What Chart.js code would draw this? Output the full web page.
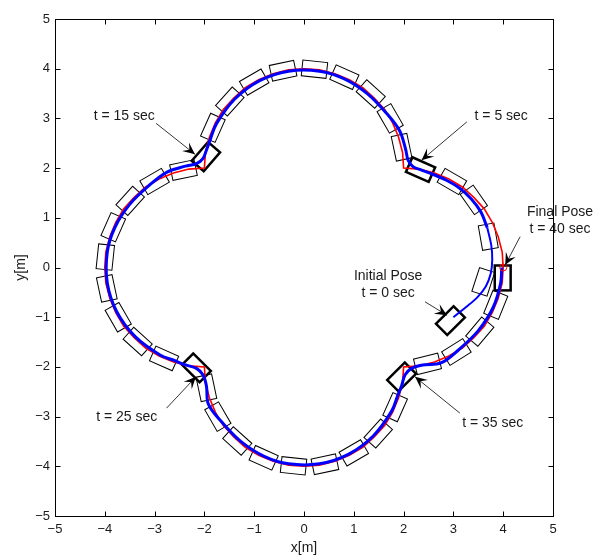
<!DOCTYPE html>
<html lang="en">
<head>
<meta charset="UTF-8">
<title>Trajectory Tracking</title>
<script src="https://cdn.jsdelivr.net/npm/chart.js"></script>
<style>
  html, body { margin: 0; padding: 0; background: #fff; }
  #wrap { width: 593px; height: 555px; }
</style>
</head>
<body>
<div id="wrap"><canvas id="traj" width="593" height="555"></canvas></div>
<script>
// reference path (red), counter-clockwise from (4,0)
const refX = [4.00,3.98,3.90,3.78,3.62,3.41,3.18,2.91,2.62,2.31,2.00,
  1.98,1.90,1.78,1.62,1.41,1.18,0.91,0.62,0.31,0.00,-0.31,-0.62,-0.91,-1.18,-1.41,-1.62,-1.78,-1.90,-1.98,-2.00,
  -2.31,-2.62,-2.91,-3.18,-3.41,-3.62,-3.78,-3.90,-3.98,-4.00,-3.98,-3.90,-3.78,-3.62,-3.41,-3.18,-2.91,-2.62,-2.31,-2.00,
  -1.98,-1.90,-1.78,-1.62,-1.41,-1.18,-0.91,-0.62,-0.31,0.00,0.31,0.62,0.91,1.18,1.41,1.62,1.78,1.90,1.98,2.00,
  2.31,2.62,2.91,3.18,3.41,3.62,3.78,3.90,3.98,4.00];
const refY = [0.00,0.31,0.62,0.91,1.18,1.41,1.62,1.78,1.90,1.98,2.00,
  2.31,2.62,2.91,3.18,3.41,3.62,3.78,3.90,3.98,4.00,3.98,3.90,3.78,3.62,3.41,3.18,2.91,2.62,2.31,2.00,
  1.98,1.90,1.78,1.62,1.41,1.18,0.91,0.62,0.31,0.00,-0.31,-0.62,-0.91,-1.18,-1.41,-1.62,-1.78,-1.90,-1.98,-2.00,
  -2.31,-2.62,-2.91,-3.18,-3.41,-3.62,-3.78,-3.90,-3.98,-4.00,-3.98,-3.90,-3.78,-3.62,-3.41,-3.18,-2.91,-2.62,-2.31,-2.00,
  -1.98,-1.90,-1.78,-1.62,-1.41,-1.18,-0.91,-0.62,-0.31,0.00];

// robot path (blue): first the approach from the initial pose, then the tracking part
const startX = [3.00,3.25,3.48,3.65,3.75,3.78,3.76,3.68];
const startY = [-1.00,-0.80,-0.60,-0.38,-0.12,0.15,0.45,0.80];
const robotX = [3.68,3.55,3.36,3.12,2.85,2.58,2.36,2.19,2.09,2.04,
  1.92,1.66,1.27,0.80,0.31,-0.31,-0.89,-1.39,-1.76,-1.88,-1.96,-2.03,-2.16,-2.38,
  -2.75,-3.10,-3.50,-3.80,-3.95,-3.95,-3.76,-3.39,-2.89,-2.58,-2.38,-2.16,-2.03,-1.96,
  -1.92,-1.66,-1.27,-0.80,-0.31,0.31,0.89,1.39,1.76,1.88,1.96,2.03,2.16,2.38,
  2.75,3.10,3.50,3.80,3.95,3.97];
const robotY = [0.80,1.12,1.38,1.60,1.76,1.88,1.96,2.03,2.16,2.38,
  2.75,3.10,3.50,3.80,3.95,3.95,3.76,3.39,2.89,2.58,2.36,2.19,2.09,2.04,
  1.92,1.66,1.27,0.80,0.31,-0.31,-0.89,-1.39,-1.76,-1.88,-1.96,-2.03,-2.16,-2.38,
  -2.75,-3.10,-3.50,-3.80,-3.95,-3.95,-3.76,-3.39,-2.89,-2.58,-2.38,-2.16,-2.03,-1.96,
  -1.92,-1.66,-1.27,-0.80,-0.31,0.00];

// robot body every second, t = 0..40 (centre x, centre y, heading in deg)
const poseX = [2.94,3.60,3.70,3.41,2.97,2.34,
  1.96,1.73,1.34,0.81,0.21,-0.42,-1.00,-1.49,-1.83,-1.97,
  -2.42,-3.00,-3.49,-3.83,-3.99,-3.96,-3.73,-3.34,-2.81,-2.16,
  -1.96,-1.73,-1.34,-0.81,-0.21,0.42,1.00,1.49,1.83,1.96,
  2.48,3.06,3.53,3.85,3.99];
const poseY = [-1.07,-0.29,0.62,1.36,1.73,1.97,
  2.42,3.00,3.49,3.83,3.99,3.96,3.73,3.34,2.81,2.23,
  1.96,1.73,1.34,0.81,0.21,-0.42,-1.00,-1.49,-1.83,-2.02,
  -2.42,-3.00,-3.49,-3.83,-3.99,-3.96,-3.73,-3.34,-2.81,-2.20,
  -1.94,-1.70,-1.29,-0.75,-0.21];
const poseHeading = [45,72,100,125,150,156,
  102,120,138,156,174,192,210,228,246,229,
  192,210,228,246,264,282,300,318,336,315,
  282,300,318,336,354,12,30,48,66,45,
  14,32,50,68,90];
const keyTimes = [0, 5, 15, 25, 35, 40];

// final reference point
const goalX = [4.00];
const goalY = [0.00];

// annotations
const noteText = [['t = 15 sec'], ['t = 5 sec'], ['Final Pose', 't = 40 sec'],
  ['Initial Pose', 't = 0 sec'], ['t = 25 sec'], ['t = 35 sec']];
const noteX = [-3.61, 3.96, 5.14, 1.69, -3.56, 3.79];
const noteY = [3.05, 3.05, 0.95, -0.335, -3.02, -3.13];
const tailX = [-2.97, 3.27, 4.34, 2.43, -2.76, 3.13];
const tailY = [2.90, 2.93, 0.62, -0.69, -2.83, -2.93];
const tipX = [-2.19, 2.36, 4.04, 2.87, -2.17, 2.23];
const tipY = [2.28, 2.16, 0.05, -0.96, -2.20, -2.20];

const axisTicks = [-5, -4, -3, -2, -1, 0, 1, 2, 3, 4, 5];

const FONT = "'Liberation Sans', Arial, Helvetica, sans-serif";
const INK = '#1a1a1a';
const BOX_LEN = 0.5, BOX_WID = 0.32;

const pts = (xs, ys) => xs.map((x, i) => ({ x: x, y: ys[i] }));
const fmt = v => (v < 0 ? '\u2212' + Math.abs(v) : String(v));

function drawBox(ctx, sx, sy, i, lw) {
  const px = sx.getPixelForValue(poseX[i]);
  const py = sy.getPixelForValue(poseY[i]);
  const L = sx.getPixelForValue(BOX_LEN) - sx.getPixelForValue(0);
  const W = sy.getPixelForValue(0) - sy.getPixelForValue(BOX_WID);
  ctx.save();
  ctx.translate(px, py);
  ctx.rotate(-poseHeading[i] * Math.PI / 180);
  ctx.lineWidth = lw;
  ctx.strokeStyle = '#000';
  ctx.strokeRect(-L / 2, -W / 2, L, W);
  ctx.restore();
}

function arrowHead(ctx, x0, y0, x1, y1) {
  const a = Math.atan2(y1 - y0, x1 - x0);
  ctx.save();
  ctx.translate(x1, y1);
  ctx.rotate(a);
  ctx.beginPath();
  ctx.moveTo(0, 0);
  ctx.lineTo(-12, -5.5);
  ctx.lineTo(-7, 0);
  ctx.lineTo(-12, 5.5);
  ctx.closePath();
  ctx.fill();
  ctx.restore();
}

const decorations = {
  id: 'decorations',
  beforeDatasetsDraw(chart) {
    const { ctx, scales: { x, y } } = chart;
    for (let i = 0; i < poseX.length; i++) {
      drawBox(ctx, x, y, i, keyTimes.includes(i) ? 2.5 : 1);
    }
  },
  afterDatasetsDraw(chart) {
    const { ctx, scales: { x, y } } = chart;
    ctx.save();
    ctx.strokeStyle = '#000';
    ctx.fillStyle = '#000';
    ctx.lineWidth = 0.8;
    for (let i = 0; i < noteText.length; i++) {
      const x0 = x.getPixelForValue(tailX[i]), y0 = y.getPixelForValue(tailY[i]);
      const x1 = x.getPixelForValue(tipX[i]), y1 = y.getPixelForValue(tipY[i]);
      ctx.beginPath();
      ctx.moveTo(x0, y0);
      ctx.lineTo(x1, y1);
      ctx.stroke();
      arrowHead(ctx, x0, y0, x1, y1);
    }
    ctx.fillStyle = INK;
    ctx.font = '14px ' + FONT;
    ctx.textAlign = 'center';
    ctx.textBaseline = 'middle';
    const lineH = 17;
    for (let i = 0; i < noteText.length; i++) {
      const cx = x.getPixelForValue(noteX[i]);
      const cy = y.getPixelForValue(noteY[i]);
      const lines = noteText[i];
      lines.forEach((t, k) => {
        ctx.fillText(t, cx, cy + (k - (lines.length - 1) / 2) * lineH);
      });
    }
    ctx.restore();
  },
  afterDraw(chart) {
    const { ctx, chartArea: a, scales: { x, y } } = chart;
    const l = Math.round(a.left) + 0.5, r = Math.round(a.right) + 0.5;
    const t = Math.round(a.top) + 0.5, b = Math.round(a.bottom) + 0.5;
    ctx.save();
    ctx.strokeStyle = '#000';
    ctx.lineWidth = 1;
    ctx.strokeRect(l, t, r - l, b - t);
    ctx.beginPath();
    axisTicks.forEach(v => {
      const px = Math.round(x.getPixelForValue(v)) + 0.5;
      ctx.moveTo(px, b); ctx.lineTo(px, b - 5);
      ctx.moveTo(px, t); ctx.lineTo(px, t + 5);
      const py = Math.round(y.getPixelForValue(v)) + 0.5;
      ctx.moveTo(l, py); ctx.lineTo(l + 5, py);
      ctx.moveTo(r, py); ctx.lineTo(r - 5, py);
    });
    ctx.stroke();
    ctx.restore();
  }
};

new Chart(document.getElementById('traj'), {
  type: 'scatter',
  data: {
    datasets: [
      {
        label: 'goal',
        data: pts(goalX, goalY),
        pointStyle: 'circle',
        pointRadius: 3.5,
        borderColor: '#ff0000',
        backgroundColor: 'rgba(0,0,0,0)',
        borderWidth: 1
      },
      {
        label: 'robot',
        data: pts(robotX, robotY),
        showLine: true,
        borderColor: '#0000ff',
        borderWidth: 3,
        tension: 0.35,
        pointRadius: 0
      },
      {
        label: 'robot start',
        data: pts(startX, startY),
        showLine: true,
        borderColor: '#0000ff',
        borderWidth: 2,
        tension: 0.35,
        pointRadius: 0
      },
      {
        label: 'reference',
        data: pts(refX, refY),
        showLine: true,
        borderColor: '#ff0000',
        borderWidth: 1.6,
        tension: 0,
        pointRadius: 0
      }
    ]
  },
  options: {
    responsive: false,
    animation: false,
    devicePixelRatio: 1,
    layout: { padding: { top: 19, right: 40, left: 0, bottom: 0 } },
    plugins: { legend: { display: false }, tooltip: { enabled: false } },
    scales: {
      x: {
        type: 'linear', min: -5, max: 5,
        border: { display: false },
        grid: { display: false, drawTicks: false },
        ticks: { stepSize: 1, padding: 6, autoSkip: false, maxRotation: 0,
                 color: INK, font: { family: FONT, size: 13 }, callback: v => fmt(v) },
        title: { display: true, text: 'x[m]', color: INK, padding: 0,
                 font: { family: FONT, size: 14, lineHeight: 1 } },
        afterFit: s => { s.height = 39; }
      },
      y: {
        type: 'linear', min: -5, max: 5,
        border: { display: false },
        grid: { display: false, drawTicks: false },
        ticks: { stepSize: 1, padding: 5, autoSkip: false,
                 color: INK, font: { family: FONT, size: 13 }, callback: v => fmt(v) },
        title: { display: true, text: 'y[m]', color: INK, padding: { top: 14, bottom: 0 },
                 font: { family: FONT, size: 14, lineHeight: 1 } },
        afterFit: s => { s.width = 55; }
      }
    }
  },
  plugins: [decorations]
});
</script>
</body>
</html>
